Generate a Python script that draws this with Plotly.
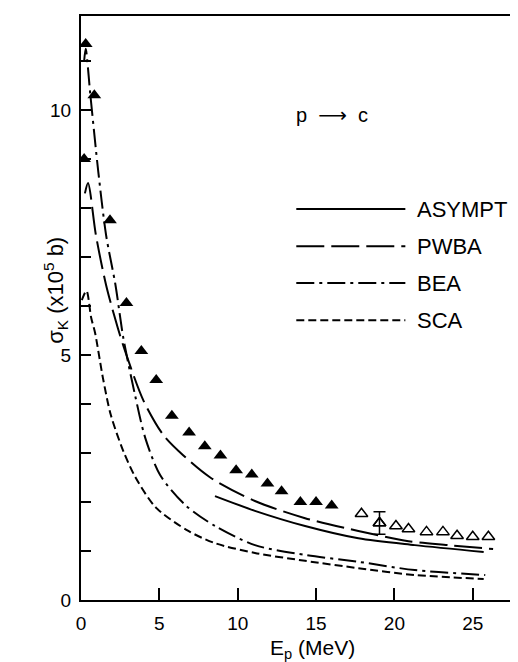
import plotly.graph_objects as go

# ---------------- data ----------------
bea_x = [0.2, 0.3, 0.6, 1.1, 1.6, 2.2, 2.7, 3.45, 4.1, 5.05, 6.65, 8.55, 11.1, 14.3, 17.7, 21.3, 25.8]
bea_y = [11.0, 11.25, 10.3, 8.75, 7.45, 6.43, 5.35, 4.18, 3.31, 2.55, 1.94, 1.51, 1.12, 0.92, 0.78, 0.61, 0.51]

pwba_x = [0.25, 0.45, 0.95, 1.6, 2.35, 2.9, 4.0, 5.25, 6.5, 8.25, 11.1, 14.3, 17.7, 20.9, 23.45, 26.3]
pwba_y = [8.3, 8.51, 7.45, 6.43, 5.55, 5.0, 4.06, 3.37, 2.96, 2.5, 2.02, 1.67, 1.41, 1.20, 1.12, 1.04]

asympt_x = [8.55, 11.1, 14.3, 17.7, 21.3, 25.7]
asympt_y = [2.12, 1.82, 1.51, 1.26, 1.12, 0.98]

sca_x = [0.05, 0.35, 0.65, 0.9, 1.4, 1.9, 2.7, 3.5, 4.8, 6.85, 8.55, 11.1, 14.3, 17.7, 21.3, 25.7]
sca_y = [6.12, 6.31, 5.76, 5.45, 4.53, 3.78, 3.04, 2.49, 1.88, 1.41, 1.16, 0.96, 0.80, 0.65, 0.51, 0.43]

exp_filled_x = [0.2, 0.3, 0.85, 1.85, 2.9, 3.85, 4.8, 5.8, 6.9, 7.9, 8.9, 9.9, 10.9, 11.9, 12.8, 14.0, 15.0, 16.0]
exp_filled_y = [9.0, 11.35, 10.3, 7.75, 6.06, 5.08, 4.49, 3.76, 3.42, 3.14, 2.95, 2.65, 2.56, 2.38, 2.22, 2.0, 2.0, 1.93]

exp_open_x = [17.9, 19.05, 20.1, 20.9, 22.05, 23.1, 24.0, 25.0, 26.0]
exp_open_y = [1.76, 1.57, 1.51, 1.45, 1.39, 1.39, 1.31, 1.29, 1.29]
exp_open_err = [0, 0.23, 0, 0, 0, 0, 0, 0, 0]

legend_names = ["ASYMPT", "PWBA", "BEA", "SCA"]
x_tick_vals = [0, 5, 10, 15, 20, 25]
y_tick_vals = list(range(0, 12))
y_tick_labels = ["0", "", "", "", "", "5", "", "", "", "", "10", ""]

# ---------------- styles ----------------
FONT = "Liberation Sans, Arial, DejaVu Sans, sans-serif"
dash_styles = {
    "ASYMPT": "solid",
    "PWBA": "28px,7px",
    "BEA": "18px,5px,3px,5px",
    "SCA": "8px,4px",
}
LW = 2

fig = go.Figure()

curves = {
    "ASYMPT": (asympt_x, asympt_y),
    "PWBA": (pwba_x, pwba_y),
    "BEA": (bea_x, bea_y),
    "SCA": (sca_x, sca_y),
}
for name in legend_names:
    cx, cy = curves[name]
    fig.add_trace(go.Scatter(
        x=cx, y=cy, mode="lines", name=name,
        line=dict(color="black", width=LW, dash=dash_styles[name], shape="spline", smoothing=0.8),
        showlegend=False,
    ))

fig.add_trace(go.Scatter(
    x=exp_filled_x, y=exp_filled_y, mode="markers",
    marker=dict(symbol="triangle-up", size=12, color="black"),
    showlegend=False,
))
fig.add_trace(go.Scatter(
    x=exp_open_x, y=exp_open_y, mode="markers",
    marker=dict(symbol="triangle-up-open", size=11, color="black", line=dict(width=1.5)),
    showlegend=False,
))
err_x = [x for x, e in zip(exp_open_x, exp_open_err) if e > 0]
err_y = [y for y, e in zip(exp_open_y, exp_open_err) if e > 0]
err_v = [e for e in exp_open_err if e > 0]
fig.add_trace(go.Scatter(
    x=err_x, y=err_y, mode="markers",
    marker=dict(symbol="triangle-up-open", size=11, color="black", line=dict(width=1.5)),
    error_y=dict(type="data", array=err_v, visible=True, color="black", thickness=1.5, width=6),
    showlegend=False,
))

# ---------------- hand-drawn style legend ----------------
leg_x0, leg_x1, leg_label_x = 13.74, 20.7, 21.3
leg_ys = [7.98, 7.22, 6.47, 5.71]
for name, ly in zip(legend_names, leg_ys):
    fig.add_shape(type="line", xref="x", yref="y", x0=leg_x0, x1=leg_x1, y0=ly, y1=ly,
                  line=dict(color="black", width=LW, dash=dash_styles[name]))
    fig.add_annotation(x=leg_label_x, y=ly, xref="x", yref="y", text=name, showarrow=False,
                       xanchor="left", yanchor="middle", font=dict(family=FONT, size=22, color="black"))

fig.add_annotation(x=16.0, y=9.9, xref="x", yref="y", text="p&nbsp;&nbsp;&#10230;&nbsp;&nbsp;c",
                   showarrow=False, font=dict(family=FONT, size=20, color="black"))

fig.add_annotation(x=14.8, y=-0.084, xref="x", yref="paper",
                   text="E<sub>p</sub> (MeV)", showarrow=False,
                   yanchor="middle", font=dict(family=FONT, size=21, color="black"))
fig.add_annotation(x=-0.097, y=0.53, xref="paper", yref="paper",
                   text="σ<sub>K</sub> (x10<sup>5</sup> b)", showarrow=False, textangle=-90,
                   font=dict(family=FONT, size=22, color="black"))

fig.update_layout(
    width=518, height=662,
    margin=dict(l=73, r=0, t=8, b=70, autoexpand=False),
    paper_bgcolor="white", plot_bgcolor="white",
    font=dict(family=FONT, size=19, color="black"),
    xaxis=dict(range=[0, 28.4], tickvals=x_tick_vals, ticks="inside", ticklen=12, tickwidth=1.5,
               tickcolor="black", showline=True, linecolor="black", linewidth=2, mirror=True,
               showgrid=False, zeroline=False, ticklabelstandoff=5, automargin=False,
               tickfont=dict(family=FONT, size=19, color="black")),
    yaxis=dict(range=[0, 11.92], tickvals=y_tick_vals, ticktext=y_tick_labels, ticks="inside",
               ticklen=10, tickwidth=1.5, tickcolor="black", showline=True, linecolor="black",
               linewidth=2, showgrid=False, zeroline=False, ticklabelstandoff=4, automargin=False,
               tickfont=dict(family=FONT, size=19, color="black")),
)

fig.write_html("out.html")
